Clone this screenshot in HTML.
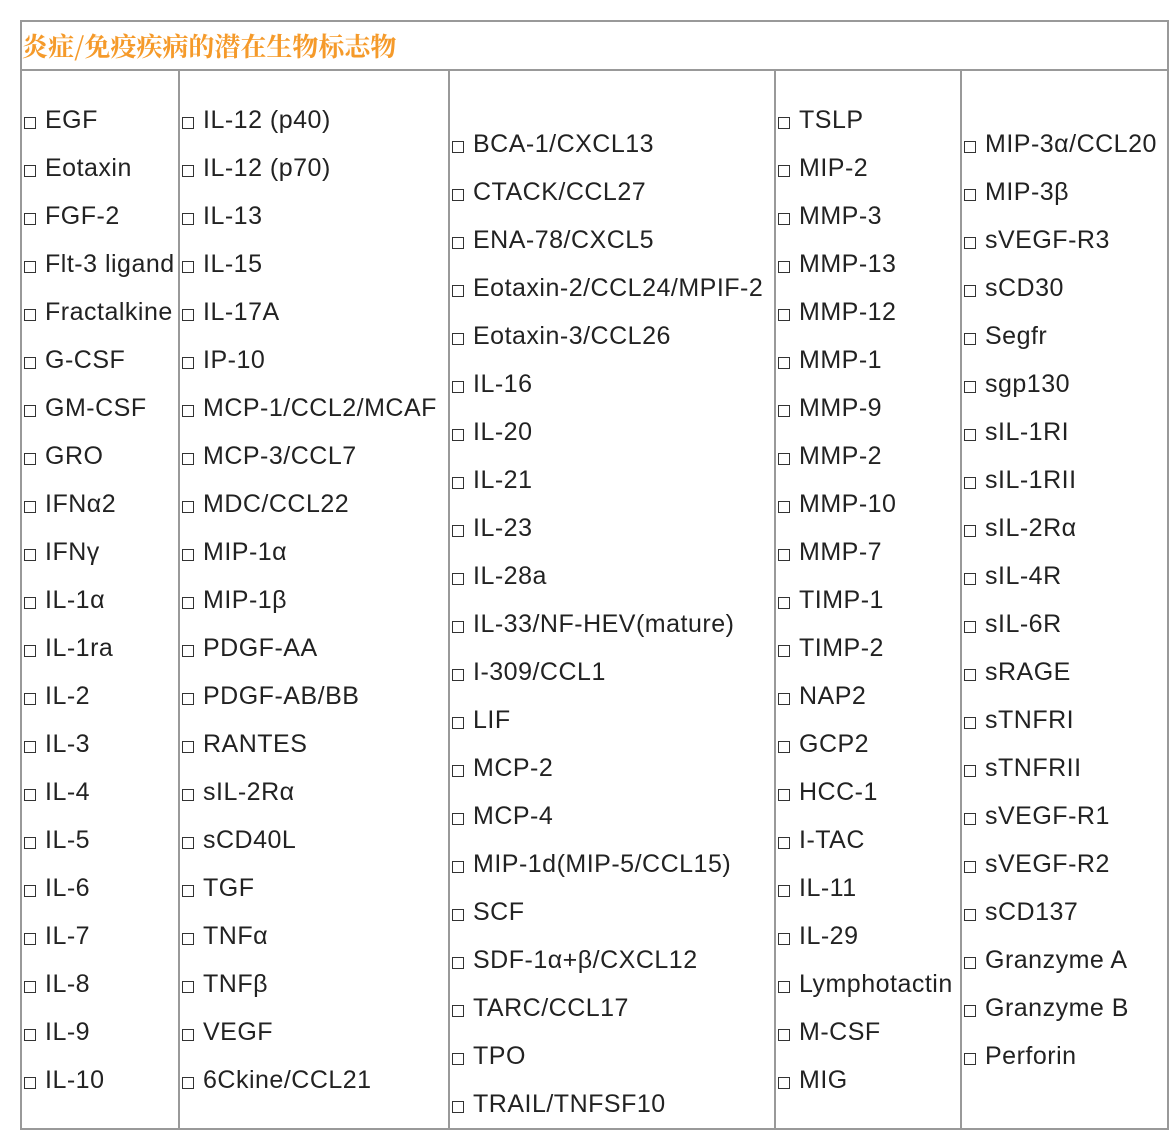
<!DOCTYPE html>
<html><head><meta charset="utf-8"><style>
body{margin:0;width:1176px;height:1132px;background:#fff;position:relative;overflow:hidden;font-family:"Liberation Sans",Arial,sans-serif;color:#222}
.l{position:absolute;background:#999}
.t{position:absolute;left:22px;top:29px;font:bold 26px "Noto Serif CJK SC","Liberation Serif",serif;color:#f59a2a;line-height:34px}
.c{position:absolute;font-size:25px;letter-spacing:0.5px;line-height:48px;white-space:nowrap}
.c div{height:48px}
.c div:before{content:"";display:inline-block;width:10px;height:10px;border:1px solid #333;margin-right:9px;vertical-align:-1px;background:#fff}
</style></head><body>
<div class="l" style="left:20px;top:20px;width:1149px;height:2px"></div>
<div class="l" style="left:20px;top:69px;width:1149px;height:2px"></div>
<div class="l" style="left:20px;top:1128px;width:1149px;height:2px"></div>
<div class="l" style="left:20px;top:20px;width:2px;height:1110px"></div>
<div class="l" style="left:1167px;top:20px;width:2px;height:1110px"></div>
<div class="l" style="left:178px;top:70px;width:2px;height:1060px"></div>
<div class="l" style="left:448px;top:70px;width:2px;height:1060px"></div>
<div class="l" style="left:774px;top:70px;width:2px;height:1060px"></div>
<div class="l" style="left:960px;top:70px;width:2px;height:1060px"></div>
<div class="t">炎症/免疫疾病的潜在生物标志物</div>
<div class="c" style="left:24px;top:96px">
<div>EGF</div><div>Eotaxin</div><div>FGF-2</div><div>Flt-3 ligand</div><div>Fractalkine</div><div>G-CSF</div><div>GM-CSF</div><div>GRO</div><div>IFNα2</div><div>IFNγ</div><div>IL-1α</div><div>IL-1ra</div><div>IL-2</div><div>IL-3</div><div>IL-4</div><div>IL-5</div><div>IL-6</div><div>IL-7</div><div>IL-8</div><div>IL-9</div><div>IL-10</div></div>
<div class="c" style="left:182px;top:96px">
<div>IL-12 (p40)</div><div>IL-12 (p70)</div><div>IL-13</div><div>IL-15</div><div>IL-17A</div><div>IP-10</div><div>MCP-1/CCL2/MCAF</div><div>MCP-3/CCL7</div><div>MDC/CCL22</div><div>MIP-1α</div><div>MIP-1β</div><div>PDGF-AA</div><div>PDGF-AB/BB</div><div>RANTES</div><div>sIL-2Rα</div><div>sCD40L</div><div>TGF</div><div>TNFα</div><div>TNFβ</div><div>VEGF</div><div>6Ckine/CCL21</div></div>
<div class="c" style="left:452px;top:120px">
<div>BCA-1/CXCL13</div><div>CTACK/CCL27</div><div>ENA-78/CXCL5</div><div>Eotaxin-2/CCL24/MPIF-2</div><div>Eotaxin-3/CCL26</div><div>IL-16</div><div>IL-20</div><div>IL-21</div><div>IL-23</div><div>IL-28a</div><div>IL-33/NF-HEV(mature)</div><div>I-309/CCL1</div><div>LIF</div><div>MCP-2</div><div>MCP-4</div><div>MIP-1d(MIP-5/CCL15)</div><div>SCF</div><div>SDF-1α+β/CXCL12</div><div>TARC/CCL17</div><div>TPO</div><div>TRAIL/TNFSF10</div></div>
<div class="c" style="left:778px;top:96px">
<div>TSLP</div><div>MIP-2</div><div>MMP-3</div><div>MMP-13</div><div>MMP-12</div><div>MMP-1</div><div>MMP-9</div><div>MMP-2</div><div>MMP-10</div><div>MMP-7</div><div>TIMP-1</div><div>TIMP-2</div><div>NAP2</div><div>GCP2</div><div>HCC-1</div><div>I-TAC</div><div>IL-11</div><div>IL-29</div><div>Lymphotactin</div><div>M-CSF</div><div>MIG</div></div>
<div class="c" style="left:964px;top:120px">
<div>MIP-3α/CCL20</div><div>MIP-3β</div><div>sVEGF-R3</div><div>sCD30</div><div>Segfr</div><div>sgp130</div><div>sIL-1RI</div><div>sIL-1RII</div><div>sIL-2Rα</div><div>sIL-4R</div><div>sIL-6R</div><div>sRAGE</div><div>sTNFRI</div><div>sTNFRII</div><div>sVEGF-R1</div><div>sVEGF-R2</div><div>sCD137</div><div>Granzyme A</div><div>Granzyme B</div><div>Perforin</div></div>
</body></html>
